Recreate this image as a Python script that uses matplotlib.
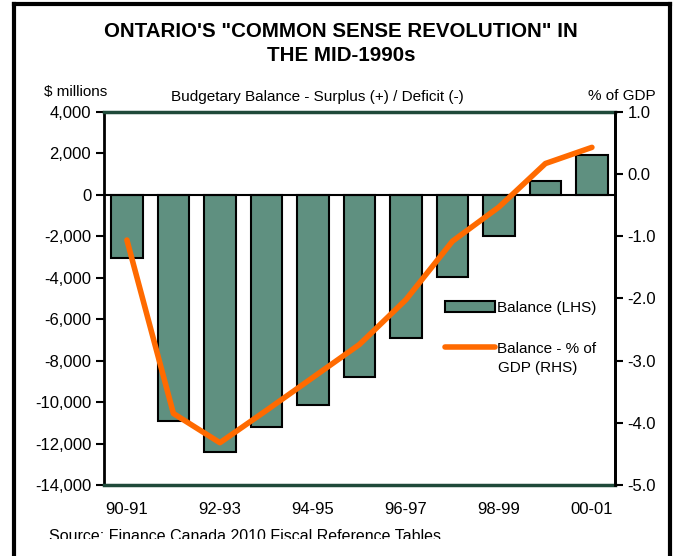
import matplotlib.pyplot as plt
from matplotlib.lines import Line2D
from matplotlib.patches import Rectangle

plt.rcParams['font.family'] = ['Liberation Sans', 'DejaVu Sans']

anos = ['90-91', '91-92', '92-93', '93-94', '94-95', '95-96',
        '96-97', '97-98', '98-99', '99-00', '00-01']
saldo = [-3030, -10930, -12430, -11200, -10130, -8800,
         -6900, -3970, -2000, 670, 1900]
saldo_pib = [-1.06, -3.85, -4.32, -3.8, -3.27, -2.74,
             -2.02, -1.08, -0.53, 0.17, 0.43]
rotulos = ['90-91', '', '92-93', '', '94-95', '', '96-97', '', '98-99', '', '00-01']

verde = '#5f9080'
laranja = '#ff6a00'

fig = plt.figure(figsize=(6.82, 5.56), dpi=100)
ax = fig.add_axes([0.152, 0.1277, 0.750, 0.671])
x = range(len(anos))
barras = ax.bar(x, saldo, width=0.68, color=verde, edgecolor='black',
                linewidth=1.5, zorder=2, label='Balance (LHS)')
ax.axhline(0, color='black', linewidth=1.5, zorder=3)
ax.set_ylim(-14000, 4000)
ax.set_xlim(-0.5, len(anos) - 0.5)
ax.set_yticks(range(-14000, 4001, 2000))
ax.set_yticklabels(['{:,}'.format(v) for v in range(-14000, 4001, 2000)], fontsize=12)
ax.set_xticks(list(x))
ax.set_xticklabels(rotulos, fontsize=12)
ax.tick_params(axis='x', length=0, pad=12)
ax.tick_params(axis='y', direction='out', length=6, width=1.5, pad=3)
for lado in ['left', 'right']:
    ax.spines[lado].set_linewidth(2)
    ax.spines[lado].set_color('black')
for lado in ['top', 'bottom']:
    ax.spines[lado].set_linewidth(2.5)
    ax.spines[lado].set_color('#1f4a3a')

ax2 = ax.twinx()
linha, = ax2.plot(x, saldo_pib, color=laranja, linewidth=4,
                  solid_capstyle='round', zorder=4)
ax2.set_ylim(-5, 1)
ax2.set_yticks([-5, -4, -3, -2, -1, 0, 1])
ax2.set_yticklabels(['{:.1f}'.format(v) for v in [-5, -4, -3, -2, -1, 0, 1]], fontsize=12)
ax2.tick_params(axis='y', direction='out', length=6, width=1.5, pad=3)
for lado in ['top', 'bottom', 'left']:
    ax2.spines[lado].set_visible(False)
ax2.spines['right'].set_linewidth(2)

leg = ax2.legend([barras, linha], ['Balance (LHS)', 'Balance - % of'],
                 loc='upper left', bbox_to_anchor=(0.64, 0.53), frameon=False,
                 fontsize=11, handlelength=3.3, handletextpad=0.1, labelspacing=1.75)
fig.text(0.730, 0.338, 'GDP (RHS)', ha='left', va='center', fontsize=11)

fig.text(0.5, 0.943, 'ONTARIO\'S "COMMON SENSE REVOLUTION" IN', ha='center', va='center',
         fontsize=14.8, fontweight='bold')
fig.text(0.5, 0.900, 'THE MID-1990s', ha='center', va='center',
         fontsize=14.8, fontweight='bold')
fig.text(0.065, 0.835, '$ millions', ha='left', va='center', fontsize=11)
fig.text(0.465, 0.826, 'Budgetary Balance - Surplus (+) / Deficit (-)', ha='center',
         va='center', fontsize=11)
fig.text(0.962, 0.828, '% of GDP', ha='right', va='center', fontsize=11)
fig.text(0.072, 0.027, 'Source: Finance Canada 2010 Fiscal Reference Tables',
         ha='left', va='baseline', fontsize=11.5)
# faixa branca que corta a fonte, como no original
fig.add_artist(Rectangle((0.022, 0.0), 0.96, 0.0297, transform=fig.transFigure,
                         facecolor='white', edgecolor='none', zorder=10))

# moldura
fig.add_artist(Line2D([0.02, 0.02], [0.0, 0.992], color='black', linewidth=3, zorder=11))
fig.add_artist(Line2D([0.983, 0.983], [0.0, 0.992], color='black', linewidth=3, zorder=11))
fig.add_artist(Line2D([0.02, 0.983], [0.992, 0.992], color='black', linewidth=3, zorder=11))

plt.savefig('out.png', dpi=100)
